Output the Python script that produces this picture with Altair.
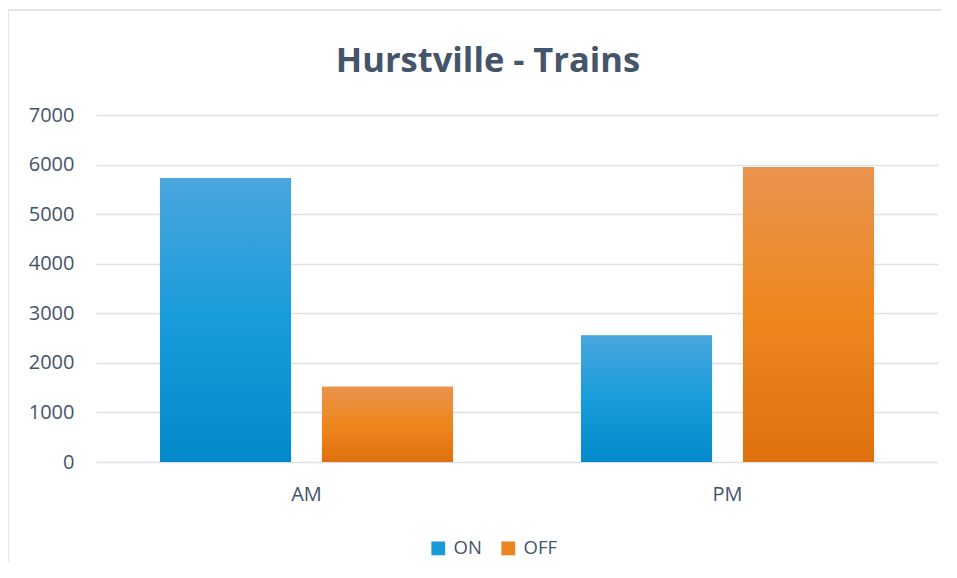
import altair as alt
import pandas as pd

periods = ["AM", "PM"]
series = ["ON", "OFF"]
on_values = [5730, 2550]
off_values = [1520, 5950]

rows = []
for i, p in enumerate(periods):
    rows.append({"period": p, "series": "ON", "value": on_values[i]})
    rows.append({"period": p, "series": "OFF", "value": off_values[i]})
df = pd.DataFrame(rows)

TEXT = "#44546A"
FONT = "Open Sans"

grad_on = alt.LinearGradient(
    gradient="linear", x1=0, y1=0, x2=0, y2=1,
    stops=[alt.GradientStop(color="#4AA6DD", offset=0),
           alt.GradientStop(color="#189CDB", offset=0.5),
           alt.GradientStop(color="#028ACA", offset=1)])
grad_off = alt.LinearGradient(
    gradient="linear", x1=0, y1=0, x2=0, y2=1,
    stops=[alt.GradientStop(color="#E9934F", offset=0),
           alt.GradientStop(color="#EE861E", offset=0.5),
           alt.GradientStop(color="#DE710E", offset=1)])

x_enc = alt.X("period:N", sort=periods, title=None,
              scale=alt.Scale(paddingInner=0, paddingOuter=0),
              axis=alt.Axis(labelAngle=0, domain=False, ticks=False, grid=False,
                            labelPadding=22, labelFontSize=20, labelColor=TEXT,
                            labelFont=FONT))
xo_enc = alt.XOffset("series:N", sort=series,
                     scale=alt.Scale(domain=series, paddingInner=0.191, paddingOuter=0.395))
y_enc = alt.Y("value:Q", title=None,
              scale=alt.Scale(domain=[0, 7000], nice=False),
              axis=alt.Axis(values=list(range(0, 7001, 1000)), format="d",
                            domain=False, ticks=False,
                            labelPadding=22, labelFontSize=20, labelColor=TEXT,
                            labelFont=FONT, gridColor="#DDE1E7", gridWidth=1.4))

base = alt.Chart(df).mark_bar().encode(
    x=x_enc, xOffset=xo_enc, y=y_enc,
    color=alt.Color("series:N", sort=series,
                    scale=alt.Scale(domain=series, range=["#1A9BD9", "#EC8420"]),
                    legend=alt.Legend(title=None, orient="none", direction="horizontal",
                                      legendX=333, legendY=424,
                                      symbolType="square", symbolSize=190,
                                      symbolStrokeWidth=0, labelFontSize=18.5,
                                      labelColor=TEXT, labelFont=FONT,
                                      labelOffset=6, columnPadding=17)),
)

overlay = alt.Chart(df).mark_bar().encode(
    x=x_enc, xOffset=xo_enc, y=y_enc,
    color=alt.condition("datum.series == 'ON'", alt.value(grad_on), alt.value(grad_off)),
)

frame = alt.Chart(pd.DataFrame({"k": [0]})).mark_rect(
    fillOpacity=0, stroke="#D9DDE3", strokeWidth=1.5
).encode(
    x=alt.value(-88), x2=alt.value(900), y=alt.value(-105), y2=alt.value(500)
)

chart = alt.layer(frame, base, overlay).properties(
    width=842, height=347,
    autosize=alt.AutoSizeParams(type="none"),
    padding={"left": 88, "top": 107, "right": 3, "bottom": 100},
    title=alt.TitleParams("Hurstville - Trains", font=FONT, fontSize=34.5,
                          fontWeight="bold", color=TEXT, anchor="middle",
                          frame="group", dx=-29, baseline="alphabetic", offset=-97),
).configure_view(stroke=None)

chart.save("out.html", embed_options={"renderer": "svg", "actions": False})
